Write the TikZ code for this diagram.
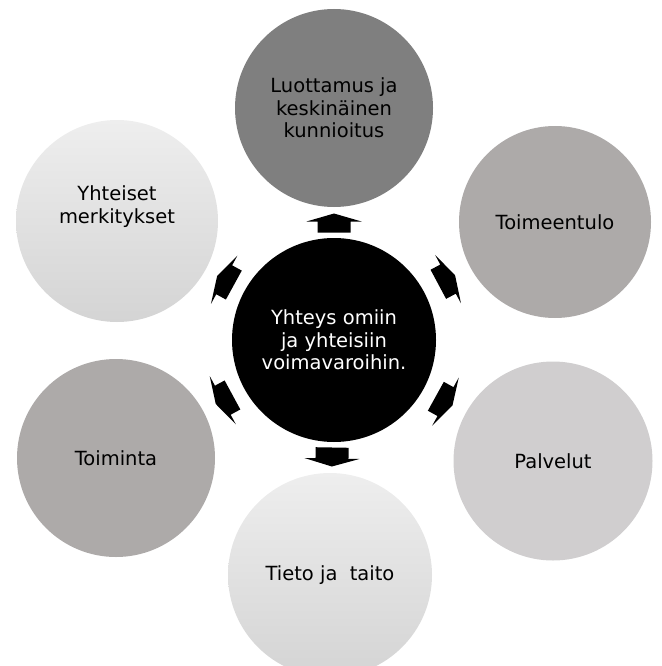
\documentclass[tikz,border=0pt]{standalone}
\usepackage{fontspec}
\setmainfont{DejaVu Sans}
\definecolor{gA}{HTML}{7F7F7F}
\definecolor{gB}{HTML}{ADAAA9}
\definecolor{gC}{HTML}{D0CECF}
\definecolor{gTop}{HTML}{EEEEEE}
\definecolor{gBot}{HTML}{D4D4D4}
\tikzset{
  bub/.style={circle, inner sep=0pt, align=center, text=black,
    font=\fontsize{19.5}{22.5}\selectfont},
  shadebub/.style={bub, top color=gTop, bottom color=gBot},
  blockarrow/.pic={
    \fill[black] (-10,-16.5) -- (1,-16.5) -- (1,-27.5) -- (9,0) -- (1,27.5)
      -- (1,16.5) -- (-10,16.5) -- cycle;
  }
}
\begin{document}
\begin{tikzpicture}[x=1pt,y=-1pt]
\useasboundingbox (0,0) rectangle (661,666);
\node[bub, fill=black, text=white, minimum size=204pt] (c) at (334,340)
  {Yhteys omiin\\ja yhteisiin\\voimavaroihin.};
\node[bub, fill=gA, minimum size=198pt] (luot) at (334,108)
  {Luottamus ja\\keskinäinen\\kunnioitus};
\node[bub, fill=gB, minimum size=192pt] (toim) at (555,222) {Toimeentulo};
\node[bub, fill=gC, minimum size=199pt] (palv) at (553,461) {Palvelut};
\node[shadebub, minimum size=204pt] (tieto) at (330,575) {Tieto ja\ \ taito};
\node[bub, fill=gB, minimum size=198pt] (toiminta) at (116,458) {Toiminta};
\node[shadebub, minimum size=202pt] (yht) at (117,221)
  {Yhteiset\\merkitykset\\[10pt]};
\foreach \o in {luot,toim,palv,tieto,toiminta,yht}
  \path (c) -- (\o) pic[pos=0.5, sloped, allow upside down]{blockarrow};
\end{tikzpicture}
\end{document}
